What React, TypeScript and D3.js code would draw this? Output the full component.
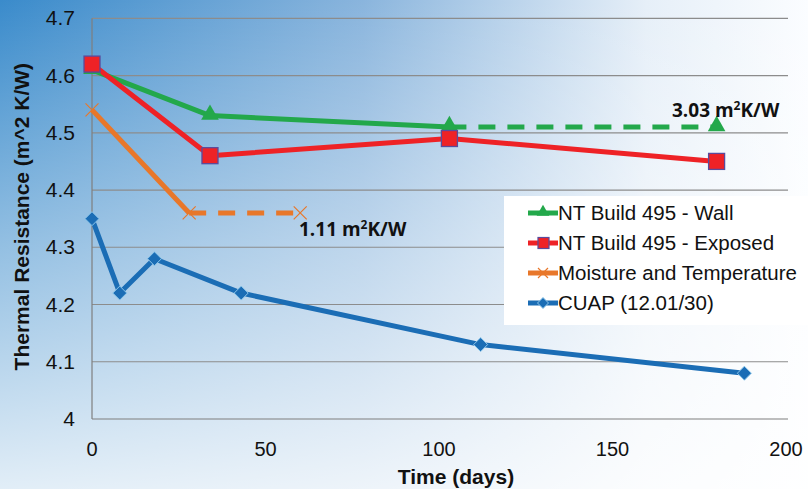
import React from "react";
import * as d3 from "d3";

const wallX = [0, 34, 103];
const wallY = [4.61, 4.53, 4.51];
const wallDashX = [103, 180];
const wallDashY = [4.51, 4.51];
const expX = [0, 34, 103, 180];
const expY = [4.62, 4.46, 4.49, 4.45];
const moistX = [0, 28];
const moistY = [4.54, 4.36];
const moistDashX = [28, 60];
const moistDashY = [4.36, 4.36];
const cuapX = [0, 8, 18, 43, 112, 188];
const cuapY = [4.35, 4.22, 4.28, 4.22, 4.13, 4.08];
const xTicks = [0, 50, 100, 150, 200];
const yTicks = [4, 4.1, 4.2, 4.3, 4.4, 4.5, 4.6, 4.7];
const legendLabels = [
  "NT Build 495 - Wall",
  "NT Build 495 - Exposed",
  "Moisture and Temperature",
  "CUAP (12.01/30)",
];
const annoWall = "3.03 m";
const annoMoist = "1.11 m";

const W = 808;
const H = 489;
const GREEN = "#23a84b";
const RED = "#ee2226";
const ORANGE = "#e8772a";
const BLUE = "#1b6db5";

export default function App() {
  const x = d3.scaleLinear().domain([0, 200]).range([92, 786]);
  const y = d3.scaleLinear().domain([4, 4.7]).range([419, 18.3]);
  const line = d3
    .line<[number, number]>()
    .x((d) => x(d[0]))
    .y((d) => y(d[1]));
  const pts = (xs: number[], ys: number[]) =>
    xs.map((v, i) => [v, ys[i]] as [number, number]);

  const tri = d3.symbol().type(d3.symbolTriangle).size(135)() as string;
  const dia = (s: number) => `M0,${-s}L${s},0L0,${s}L${-s},0Z`;
  const cross = (s: number) => `M${-s},${-s}L${s},${s}M${-s},${s}L${s},${-s}`;

  const font = "Arial, 'Liberation Sans', sans-serif";
  const legX = 504;
  const legY = 196;
  const legRows = [213, 243, 273, 303];

  const marker = (k: number, cx: number, cy: number, key: string) => {
    if (k === 0)
      return <path key={key} d={tri} transform={`translate(${cx},${cy - 1})`} fill={GREEN} />;
    if (k === 1)
      return (
        <rect key={key} x={cx - 8} y={cy - 8} width={16} height={16} fill={RED} stroke="#5a4b9c" strokeWidth={1.3} />
      );
    if (k === 2)
      return <path key={key} d={cross(6.5)} transform={`translate(${cx},${cy})`} stroke={ORANGE} strokeWidth={1.2} fill="none" />;
    return <path key={key} d={dia(7)} transform={`translate(${cx},${cy})`} fill={BLUE} stroke="#8fc7ea" strokeWidth={1} />;
  };

  return (
    <svg width={W} height={H} style={{ position: "absolute", left: 0, top: 0 }} fontFamily={font}>
      <defs>
        <linearGradient id="bgH" x1="0" y1="0" x2="1" y2="0">
          <stop offset="0" stopColor="#3a8bcb" />
          <stop offset="0.45" stopColor="#8ab5dd" />
          <stop offset="0.8" stopColor="#e6eff8" />
          <stop offset="1" stopColor="#fbfdff" />
        </linearGradient>
        <linearGradient id="bgV" x1="0" y1="0" x2="0" y2="1">
          <stop offset="0" stopColor="#ffffff" stopOpacity="0" />
          <stop offset="0.5" stopColor="#ffffff" stopOpacity="0.45" />
          <stop offset="1" stopColor="#ffffff" stopOpacity="0.85" />
        </linearGradient>
      </defs>
      <rect x={0} y={0} width={W} height={H} fill="url(#bgH)" />
      <rect x={0} y={0} width={W} height={H} fill="url(#bgV)" />

      {yTicks.map((t) =>
        t === 4 ? null : (
          <line key={"g" + t} x1={x(0)} x2={788} y1={y(t)} y2={y(t)} stroke="#8c8c8c" strokeWidth={1.2} />
        )
      )}
      <line x1={x(0)} x2={788} y1={y(4)} y2={y(4)} stroke="#7f7f7f" strokeWidth={1.2} />
      <line x1={x(0)} x2={x(0)} y1={y(4.7)} y2={y(4)} stroke="#7f7f7f" strokeWidth={1.2} />

      {yTicks.map((t) => (
        <text key={"yt" + t} x={75} y={y(t) + 7} textAnchor="end" fontSize={21} fill="#111">
          {t === 4 ? "4" : t.toFixed(1)}
        </text>
      ))}
      {xTicks.map((t) => (
        <text key={"xt" + t} x={x(t)} y={456} textAnchor="middle" fontSize={20} fill="#111">
          {t}
        </text>
      ))}
      <text x={456} y={484} textAnchor="middle" fontSize={21} fontWeight="bold" fill="#111">
        Time (days)
      </text>
      <text
        transform={`translate(29,${y(4.35) - 2}) rotate(-90)`}
        textAnchor="middle"
        fontSize={21}
        fontWeight="bold"
        fill="#111"
      >
        Thermal Resistance (m^2 K/W)
      </text>

      <path d={line(pts(wallDashX, wallDashY)) as string} fill="none" stroke={GREEN} strokeWidth={5} strokeDasharray="17 12" />
      <path d={line(pts(moistDashX, moistDashY)) as string} fill="none" stroke={ORANGE} strokeWidth={5} strokeDasharray="17 12" />

      <path d={line(pts(cuapX, cuapY)) as string} fill="none" stroke={BLUE} strokeWidth={5} strokeLinejoin="round" />
      <path d={line(pts(moistX, moistY)) as string} fill="none" stroke={ORANGE} strokeWidth={5} strokeLinejoin="round" />
      <path d={line(pts(wallX, wallY)) as string} fill="none" stroke={GREEN} strokeWidth={5} strokeLinejoin="round" />
      <path d={line(pts(expX, expY)) as string} fill="none" stroke={RED} strokeWidth={5} strokeLinejoin="round" />

      {pts(cuapX, cuapY).map((p, i) => marker(3, x(p[0]), y(p[1]), "c" + i))}
      {pts(moistX, moistY).map((p, i) => marker(2, x(p[0]), y(p[1]), "m" + i))}
      {marker(2, x(moistDashX[1]), y(moistDashY[1]), "md")}
      {pts(wallX, wallY).map((p, i) => marker(0, x(p[0]), y(p[1]), "w" + i))}
      {marker(0, x(wallDashX[1]), y(wallDashY[1]), "wd")}
      {pts(expX, expY).map((p, i) => marker(1, x(p[0]), y(p[1]), "e" + i))}

      <text x={672} y={117} fontSize={19} fontWeight="bold" fill="#111" fontFamily="'Open Sans', sans-serif">
        {annoWall}
        <tspan dy={-7} fontSize={12}>2</tspan>
        <tspan dy={7}>K/W</tspan>
      </text>
      <text x={299} y={236} fontSize={19} fontWeight="bold" fill="#111" fontFamily="'Open Sans', sans-serif">
        {annoMoist}
        <tspan dy={-7} fontSize={12}>2</tspan>
        <tspan dy={7}>K/W</tspan>
      </text>

      <rect x={legX} y={legY} width={W - legX + 2} height={129} fill="#ffffff" />
      {legendLabels.map((lab, i) => {
        const cy = legRows[i];
        const col = [GREEN, RED, ORANGE, BLUE][i];
        return (
          <g key={"l" + i}>
            <line x1={528} x2={558} y1={cy} y2={cy} stroke={col} strokeWidth={5} />
            {i === 0 ? (
              <path d={d3.symbol().type(d3.symbolTriangle).size(70)() as string} transform={`translate(543,${cy - 1})`} fill={GREEN} />
            ) : i === 1 ? (
              <rect x={538} y={cy - 5.5} width={11} height={11} fill={RED} stroke="#5a4b9c" strokeWidth={1.2} />
            ) : i === 2 ? (
              <path d={cross(5)} transform={`translate(543,${cy})`} stroke={ORANGE} strokeWidth={1.2} fill="none" />
            ) : (
              <path d={dia(5.5)} transform={`translate(543,${cy})`} fill={BLUE} stroke="#8fc7ea" strokeWidth={1} />
            )}
            <text x={558} y={cy + 7} fontSize={20.5} fill="#111">
              {lab}
            </text>
          </g>
        );
      })}
    </svg>
  );
}
